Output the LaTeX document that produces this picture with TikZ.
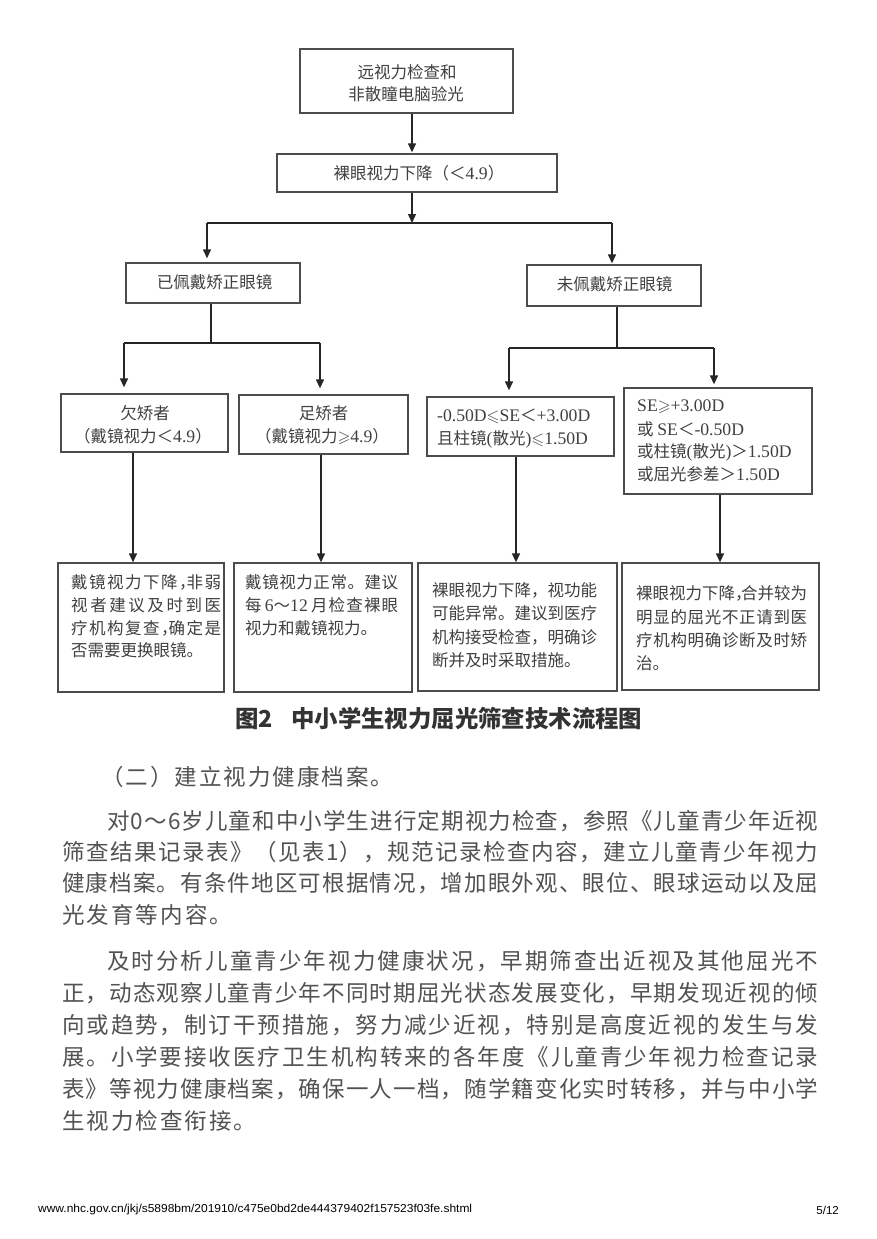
\documentclass[tikz,border=0pt]{standalone}
\usepackage{fontspec}
\usepackage{amssymb}
\usepackage{graphicx}
\setmainfont{Noto Sans CJK SC}
\newfontfamily\lat[Scale=1.07]{Liberation Serif}
\newfontfamily\arial{Liberation Sans}
\usetikzlibrary{arrows.meta}
\ExplSyntaxOn
\NewDocumentCommand\spreadto{m m}{\hbox~to~#1{\tl_map_inline:nn{#2}{##1\hfil}\unskip}}
\ExplSyntaxOff
\newcommand\ncomma{\makebox[6pt][l]{，}}
\begin{document}
\begin{tikzpicture}[x=1pt,y=-1pt,
  box/.style={draw=black!70, line width=1.3pt, inner sep=0pt},
  arr/.style={draw=black!85, line width=1.3pt, -{Triangle[length=9pt,width=8pt]}},
  ln/.style={draw=black!85, line width=1.3pt},
  txt/.style={inner sep=0pt, text=black!75, font=\fontsize{16.5}{20}\selectfont},
  txtw/.style={txt, anchor=west},
  body/.style={inner sep=0pt, anchor=west, text=black!68, font=\fontsize{22.5}{27}\selectfont},
]
\useasboundingbox[fill=white] (0,0) rectangle (876,1239);

% boxes
\node[box, minimum width=213pt, minimum height=64pt] (b1) at (406.5,81) {};
\node[box, minimum width=280pt, minimum height=38pt] (b2) at (417,173) {};
\node[box, minimum width=174pt, minimum height=40pt] (b3) at (213,283) {};
\node[box, minimum width=174pt, minimum height=41pt] (b4) at (614,285.5) {};
\node[box, minimum width=167pt, minimum height=58pt] (b5) at (144.5,423) {};
\node[box, minimum width=169pt, minimum height=59pt] (b6) at (323.5,424.5) {};
\node[box, minimum width=187pt, minimum height=59pt] (b7) at (520.5,426.5) {};
\node[box, minimum width=188pt, minimum height=106pt] (b8) at (718,441) {};
\node[box, minimum width=166pt, minimum height=129pt] (b9) at (141,627.5) {};
\node[box, minimum width=178pt, minimum height=129pt] (b10) at (323,627.5) {};
\node[box, minimum width=199pt, minimum height=128pt] (b11) at (517.5,627) {};
\node[box, minimum width=197pt, minimum height=127pt] (b12) at (720.5,626.5) {};

% connector coordinates
\coordinate (ja) at (412,0);
\coordinate (jm) at (412,223);
\coordinate (jl) at (207,223);
\coordinate (jr) at (612,223);
\coordinate (km) at (211,343);
\coordinate (kl) at (124,343);
\coordinate (kr) at (320,343);
\coordinate (mm) at (617,348);
\coordinate (ml) at (509,348);
\coordinate (mr) at (714,348);
\coordinate (d5) at (133,0);
\coordinate (d6) at (321,0);
\coordinate (d7) at (516,0);
\coordinate (d8) at (720,0);

% connectors
\draw[arr, shorten >=1pt] (b1.south -| ja) -- (b2.north -| ja);
\draw[arr] (b2.south -| ja) -- (jm);
\draw[ln] (jl) -- (jr);
\draw[arr, shorten >=4pt] (jl) -- (b3.north -| jl);
\draw[arr, shorten >=1pt] (jr) -- (b4.north -| jr);
\draw[ln] (b3.south -| km) -- (km);
\draw[ln] (kl) -- (kr);
\draw[arr, shorten >=6pt] (kl) -- (b5.north -| kl);
\draw[arr, shorten >=6pt] (kr) -- (b6.north -| kr);
\draw[ln] (b4.south -| mm) -- (mm);
\draw[ln] (ml) -- (mr);
\draw[arr, shorten >=6pt] (ml) -- (b7.north -| ml);
\draw[arr, shorten >=3pt] (mr) -- (b8.north -| mr);
\draw[arr] (b5.south -| d5) -- (b9.north -| d5);
\draw[arr] (b6.south -| d6) -- (b10.north -| d6);
\draw[arr] (b7.south -| d7) -- (b11.north -| d7);
\draw[arr] (b8.south -| d8) -- (b12.north -| d8);

% box texts
\node[txt] (t1a) at (407,72) {远视力检查和};
\node[txt] (t1b) at (406,94) {非散瞳电脑验光};
\node[txt] (t2) at (419,173) {裸眼视力下降（＜{\lat 4.9}）};
\node[txt] (t3) at (214.5,282) {已佩戴矫正眼镜};
\node[txt] (t4) at (614.5,284) {未佩戴矫正眼镜};
\node[txt] (t5a) at (145,413) {欠矫者};
\node[txt] (t5b) at (143,436) {（戴镜视力＜{\lat 4.9}）};
\node[txt] (t6a) at (323.5,413) {足矫者};
\node[txt] (t6b) at (322,437) {（戴镜视力$\geqslant${\lat 4.9}）};
\node[txtw] (t7a) at (437,416) {{\lat -0.50D}$\leqslant${\lat SE}＜{\lat +3.00D}};
\node[txtw] (t7b) at (437,439) {且柱镜{\lat (}散光{\lat )}$\leqslant${\lat 1.50D}};
\node[txtw] (t8a) at (637,407) {{\lat SE}$\geqslant${\lat +3.00D}};
\node[txtw] (t8b) at (637,429) {或 {\lat SE}＜{\lat -0.50D}};
\node[txtw] (t8c) at (637,452) {或柱镜{\lat (}散光{\lat )}＞{\lat 1.50D}};
\node[txtw] (t8d) at (637,474) {或屈光参差＞{\lat 1.50D}};

\node[txtw] (t9a) at (71,582) {\spreadto{150pt}{戴镜视力下降{\ncomma}非弱}};
\node[txtw] (t9b) at (71,605) {\spreadto{150pt}{视者建议及时到医}};
\node[txtw] (t9c) at (71,628) {\spreadto{150pt}{疗机构复查{\ncomma}确定是}};
\node[txtw] (t9d) at (71,650) {否需要更换眼镜。};

\node[txtw] (t10a) at (245,582) {\spreadto{153pt}{戴镜视力正常。建议}};
\node[txtw] (t10b) at (245,605) {\spreadto{153pt}{每{\hspace{2pt}{\lat 6}～{\lat 12}\hspace{2pt}}月检查裸眼}};
\node[txtw] (t10c) at (245,628) {视力和戴镜视力。};

\node[txtw] (t11a) at (432,590) {\spreadto{165pt}{裸眼视力下降，视功能}};
\node[txtw] (t11b) at (432,613) {\spreadto{165pt}{可能异常。建议到医疗}};
\node[txtw] (t11c) at (432,637) {\spreadto{165pt}{机构接受检查，明确诊}};
\node[txtw] (t11d) at (432,660) {断并及时采取措施。};

\node[txtw] (t12a) at (636,593) {\spreadto{171pt}{裸眼视力下降{\ncomma}合并较为}};
\node[txtw] (t12b) at (636,617) {\spreadto{171pt}{明显的屈光不正请到医}};
\node[txtw] (t12c) at (636,640) {\spreadto{171pt}{疗机构明确诊断及时矫}};
\node[txtw] (t12d) at (636,663) {治。};

% caption
\node[inner sep=0pt, anchor=west, text=black!80, font=\fontsize{23.4}{26}\selectfont\bfseries] (cap1) at (235,719) {图2};
\node[inner sep=0pt, anchor=west, text=black!80, font=\fontsize{23.4}{26}\selectfont\bfseries] (cap2) at (291,719) {中小学生视力屈光筛查技术流程图};

% body text
\node[body] (p0) at (101,777) {\spreadto{292pt}{（二）建立视力健康档案。}};
\node[body] (p1) at (107,821) {\spreadto{711pt}{对0～6岁儿童和中小学生进行定期视力检查，参照《儿童青少年近视}};
\node[body] (p2) at (62,852) {\spreadto{756pt}{筛查结果记录表》（见表1），规范记录检查内容，建立儿童青少年视力}};
\node[body] (p3) at (62,883) {\spreadto{756pt}{健康档案。有条件地区可根据情况，增加眼外观、眼位、眼球运动以及屈}};
\node[body] (p4) at (62,915) {\spreadto{170pt}{光发育等内容。}};
\node[body] (q1) at (107,961) {\spreadto{711pt}{及时分析儿童青少年视力健康状况，早期筛查出近视及其他屈光不}};
\node[body] (q2) at (62,993) {\spreadto{756pt}{正，动态观察儿童青少年不同时期屈光状态发展变化，早期发现近视的倾}};
\node[body] (q3) at (62,1025) {\spreadto{756pt}{向或趋势，制订干预措施，努力减少近视，特别是高度近视的发生与发}};
\node[body] (q4) at (62,1057) {\spreadto{756pt}{展。小学要接收医疗卫生机构转来的各年度《儿童青少年视力检查记录}};
\node[body] (q5) at (62,1089) {\spreadto{756pt}{表》等视力健康档案，确保一人一档，随学籍变化实时转移，并与中小学}};
\node[body] (q6) at (62,1121) {\spreadto{194pt}{生视力检查衔接。}};

% footer
\node[inner sep=0pt, anchor=west] (f1) at (38,1210) {\resizebox{434pt}{\height}{\arial\fontsize{11.5}{13}\selectfont www.nhc.gov.cn/jkj/s5898bm/201910/c475e0bd2de444379402f157523f03fe.shtml}};
\node[inner sep=0pt, anchor=east, font=\arial\fontsize{11.5}{13}\selectfont] (f2) at (839,1210) {5/12};
\end{tikzpicture}
\end{document}
